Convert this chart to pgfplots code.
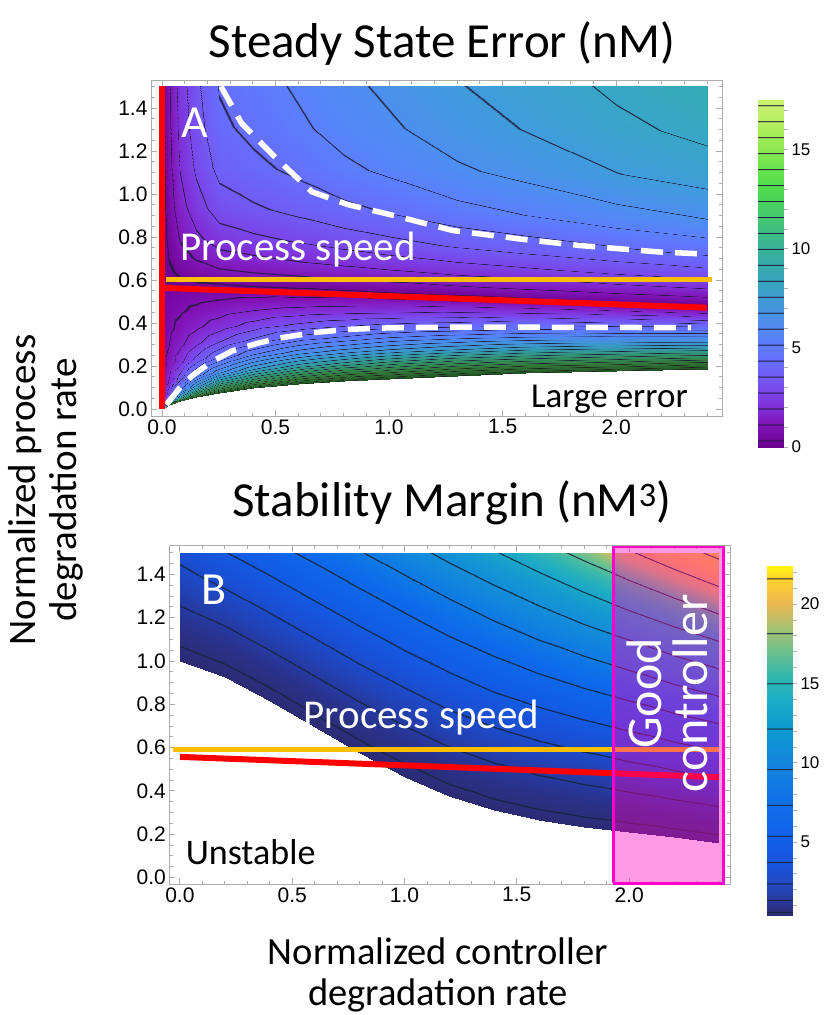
\documentclass[border=0pt]{standalone}
\usepackage{fontspec}
\setmainfont{Carlito}
\newfontfamily\arialfont{Liberation Sans}
\usepackage{pgfplots}
\pgfplotsset{compat=1.18}

\definecolor{procorange}{rgb}{1,0.75,0}
\definecolor{boxmag}{rgb}{1,0,0.8}
\definecolor{boxfill}{rgb}{1,0,0.75}

% colormaps: dark bands at the contour levels (positions = 50 x value for A, 40 x value for B)
\pgfplotsset{
  colormap={errAcb}{
    rgb(0pt)=(0.42,0,0.55);
    rgb(14pt)=(0.446,0.023,0.6); rgb(16.5pt)=(0.12,0.1,0.22); rgb(19pt)=(0.446,0.023,0.6);
    rgb(54.25pt)=(0.5,0.085,0.719); rgb(56.75pt)=(0.12,0.1,0.22); rgb(59.25pt)=(0.5,0.085,0.719);
    rgb(94.5pt)=(0.5,0.173,0.832); rgb(97pt)=(0.12,0.1,0.22); rgb(99.5pt)=(0.5,0.173,0.832);
    rgb(134.75pt)=(0.478,0.269,0.914); rgb(137.25pt)=(0.12,0.1,0.22); rgb(139.75pt)=(0.478,0.269,0.914);
    rgb(175pt)=(0.4425,0.355,0.967); rgb(177.5pt)=(0.12,0.1,0.22); rgb(180pt)=(0.4425,0.355,0.967);
    rgb(215.25pt)=(0.402,0.428,0.994); rgb(217.75pt)=(0.12,0.1,0.22); rgb(220.25pt)=(0.402,0.428,0.994);
    rgb(255.5pt)=(0.362,0.49,0.992); rgb(258pt)=(0.12,0.1,0.22); rgb(260.5pt)=(0.362,0.49,0.992);
    rgb(295.75pt)=(0.322,0.538,0.952); rgb(298.25pt)=(0.12,0.1,0.22); rgb(300.75pt)=(0.322,0.538,0.952);
    rgb(336pt)=(0.282,0.579,0.888); rgb(338.5pt)=(0.12,0.1,0.22); rgb(341pt)=(0.282,0.579,0.888);
    rgb(376.25pt)=(0.247,0.613,0.818); rgb(378.75pt)=(0.12,0.1,0.22); rgb(381.25pt)=(0.247,0.613,0.818);
    rgb(416.5pt)=(0.222,0.641,0.746); rgb(419pt)=(0.12,0.1,0.22); rgb(421.5pt)=(0.222,0.641,0.746);
    rgb(456.75pt)=(0.212,0.667,0.673); rgb(459.25pt)=(0.12,0.1,0.22); rgb(461.75pt)=(0.212,0.667,0.673);
    rgb(497pt)=(0.22,0.70,0.60); rgb(499.5pt)=(0.12,0.1,0.22); rgb(502pt)=(0.22,0.70,0.60);
    rgb(537.25pt)=(0.244,0.74,0.521); rgb(539.75pt)=(0.12,0.1,0.22); rgb(542.25pt)=(0.244,0.74,0.521);
    rgb(577.5pt)=(0.268,0.78,0.44); rgb(580pt)=(0.12,0.1,0.22); rgb(582.5pt)=(0.268,0.78,0.44);
    rgb(617.75pt)=(0.288,0.824,0.36); rgb(620.25pt)=(0.12,0.1,0.22); rgb(622.75pt)=(0.288,0.824,0.36);
    rgb(658pt)=(0.321,0.866,0.30); rgb(660.5pt)=(0.12,0.1,0.22); rgb(663pt)=(0.321,0.866,0.30);
    rgb(698.25pt)=(0.40,0.89,0.30); rgb(700.75pt)=(0.12,0.1,0.22); rgb(703.25pt)=(0.40,0.89,0.30);
    rgb(738.5pt)=(0.523,0.906,0.316); rgb(741pt)=(0.12,0.1,0.22); rgb(743.5pt)=(0.523,0.906,0.316);
    rgb(778.75pt)=(0.631,0.923,0.345); rgb(781.25pt)=(0.12,0.1,0.22); rgb(783.75pt)=(0.631,0.923,0.345);
    rgb(819pt)=(0.714,0.936,0.386); rgb(821.5pt)=(0.12,0.1,0.22); rgb(824pt)=(0.714,0.936,0.386);
    rgb(859.25pt)=(0.779,0.946,0.434); rgb(861.75pt)=(0.12,0.1,0.22); rgb(864.25pt)=(0.779,0.946,0.434);
    rgb(875pt)=(0.80,0.95,0.45)
  },
  colormap={errAup}{
    rgb(0pt)=(0.42,0,0.55);
    rgb(13.5pt)=(0.446,0.023,0.6); rgb(16.5pt)=(0.12,0.1,0.22); rgb(19.5pt)=(0.446,0.023,0.6);
    rgb(54.25pt)=(0.5,0.085,0.719); rgb(56.75pt)=(0.12,0.1,0.22); rgb(59.25pt)=(0.5,0.085,0.719);
    rgb(95.125pt)=(0.5,0.173,0.832); rgb(97pt)=(0.12,0.1,0.22); rgb(98.875pt)=(0.5,0.173,0.832);
    rgb(135.75pt)=(0.478,0.269,0.914); rgb(137.25pt)=(0.12,0.1,0.22); rgb(138.75pt)=(0.478,0.269,0.914);
    rgb(176.25pt)=(0.4425,0.355,0.967); rgb(177.5pt)=(0.12,0.1,0.22); rgb(178.75pt)=(0.4425,0.355,0.967);
    rgb(216.625pt)=(0.402,0.428,0.994); rgb(217.75pt)=(0.12,0.1,0.22); rgb(218.875pt)=(0.402,0.428,0.994);
    rgb(257.25pt)=(0.355,0.5,0.99); rgb(258pt)=(0.12,0.1,0.22); rgb(258.75pt)=(0.355,0.5,0.99);
    rgb(297.5pt)=(0.3,0.56,0.94); rgb(298.25pt)=(0.12,0.1,0.22); rgb(299pt)=(0.3,0.56,0.94);
    rgb(337.75pt)=(0.25,0.61,0.86); rgb(338.5pt)=(0.12,0.1,0.22); rgb(339.25pt)=(0.25,0.61,0.86);
    rgb(378.25pt)=(0.22,0.65,0.78); rgb(378.75pt)=(0.12,0.1,0.22); rgb(379.25pt)=(0.22,0.65,0.78);
    rgb(416.5pt)=(0.2,0.68,0.7); rgb(419pt)=(0.12,0.1,0.22); rgb(421.5pt)=(0.2,0.68,0.7);
    rgb(499.5pt)=(0.22,0.70,0.60);
    rgb(580pt)=(0.268,0.78,0.44);
    rgb(700.75pt)=(0.40,0.89,0.30);
    rgb(875pt)=(0.80,0.95,0.45)
  },
  colormap={errAlow}{
    rgb(0pt)=(0.46,0.02,0.64);
    rgb(14.5pt)=(0.5,0.06,0.7); rgb(16.5pt)=(0.12,0.1,0.22); rgb(18.5pt)=(0.5,0.06,0.7);
    rgb(54.5pt)=(0.52,0.14,0.8); rgb(56.75pt)=(0.12,0.1,0.22); rgb(59pt)=(0.52,0.14,0.8);
    rgb(94.5pt)=(0.5,0.22,0.88); rgb(97pt)=(0.12,0.1,0.22); rgb(99.5pt)=(0.5,0.22,0.88);
    rgb(134.5pt)=(0.47,0.3,0.94); rgb(137.25pt)=(0.12,0.1,0.22); rgb(140pt)=(0.47,0.3,0.94);
    rgb(174.5pt)=(0.43,0.37,0.98); rgb(177.5pt)=(0.12,0.1,0.22); rgb(180.5pt)=(0.43,0.37,0.98);
    rgb(214.25pt)=(0.4,0.42,1); rgb(217.75pt)=(0.12,0.1,0.22); rgb(221.25pt)=(0.4,0.42,1);
    rgb(254pt)=(0.37,0.46,1); rgb(258pt)=(0.12,0.1,0.22); rgb(262pt)=(0.37,0.46,1);
    rgb(293.75pt)=(0.34,0.5,0.98); rgb(298.25pt)=(0.12,0.1,0.22); rgb(302.75pt)=(0.34,0.5,0.98);
    rgb(333.5pt)=(0.31,0.53,0.95); rgb(338.5pt)=(0.12,0.1,0.22); rgb(343.5pt)=(0.31,0.53,0.95);
    rgb(373.25pt)=(0.28,0.56,0.9); rgb(378.75pt)=(0.12,0.1,0.22); rgb(384.25pt)=(0.28,0.56,0.9);
    rgb(413pt)=(0.25,0.58,0.84); rgb(419pt)=(0.12,0.1,0.22); rgb(425pt)=(0.25,0.58,0.84);
    rgb(453.25pt)=(0.22,0.6,0.77); rgb(459.25pt)=(0.12,0.1,0.22); rgb(465.25pt)=(0.22,0.6,0.77);
    rgb(493.5pt)=(0.2,0.6,0.68); rgb(499.5pt)=(0.12,0.1,0.22); rgb(505.5pt)=(0.2,0.6,0.68);
    rgb(533.75pt)=(0.2,0.6,0.58); rgb(539.75pt)=(0.12,0.1,0.22); rgb(545.75pt)=(0.2,0.6,0.58);
    rgb(574pt)=(0.2,0.58,0.48); rgb(580pt)=(0.12,0.1,0.22); rgb(586pt)=(0.2,0.58,0.48);
    rgb(614.25pt)=(0.2,0.56,0.4); rgb(620.25pt)=(0.12,0.1,0.22); rgb(626.25pt)=(0.2,0.56,0.4);
    rgb(654.5pt)=(0.2,0.54,0.33); rgb(660.5pt)=(0.12,0.1,0.22); rgb(666.5pt)=(0.2,0.54,0.33);
    rgb(694.75pt)=(0.2,0.5,0.27); rgb(700.75pt)=(0.12,0.1,0.22); rgb(706.75pt)=(0.2,0.5,0.27);
    rgb(735pt)=(0.2,0.46,0.22); rgb(741pt)=(0.1,0.12,0.1); rgb(747pt)=(0.2,0.46,0.22);
    rgb(775.25pt)=(0.18,0.42,0.2); rgb(781.25pt)=(0.1,0.12,0.1); rgb(787.25pt)=(0.18,0.42,0.2);
    rgb(815.5pt)=(0.16,0.38,0.17); rgb(821.5pt)=(0.1,0.12,0.1); rgb(827.5pt)=(0.16,0.38,0.17);
    rgb(855.75pt)=(0.14,0.33,0.15); rgb(861.75pt)=(0.1,0.12,0.1); rgb(867.75pt)=(0.14,0.33,0.15);
    rgb(875pt)=(0.12,0.3,0.13)
  },
  colormap={marBcb}{
    rgb(16pt)=(0.17,0.17,0.45);
    rgb(21.22pt)=(0.17,0.18,0.482); rgb(23.72pt)=(0.08,0.14,0.22); rgb(26.22pt)=(0.17,0.18,0.482);
    rgb(40pt)=(0.17,0.2,0.55);
    rgb(51.14pt)=(0.16,0.224,0.608); rgb(53.64pt)=(0.08,0.14,0.22); rgb(56.14pt)=(0.16,0.224,0.608);
    rgb(80pt)=(0.14,0.27,0.72);
    rgb(93.1pt)=(0.13,0.286,0.756); rgb(95.6pt)=(0.08,0.14,0.22); rgb(98.1pt)=(0.13,0.286,0.756);
    rgb(140pt)=(0.1,0.33,0.86);
    rgb(147.1pt)=(0.096,0.336,0.867); rgb(149.6pt)=(0.08,0.14,0.22); rgb(152.1pt)=(0.096,0.336,0.867);
    rgb(213.18pt)=(0.072,0.377,0.917); rgb(215.68pt)=(0.08,0.14,0.22); rgb(218.18pt)=(0.072,0.377,0.917);
    rgb(220pt)=(0.07,0.38,0.92);
    rgb(291.26pt)=(0.063,0.432,0.905); rgb(293.76pt)=(0.08,0.14,0.22); rgb(296.26pt)=(0.063,0.432,0.905);
    rgb(320pt)=(0.06,0.45,0.9);
    rgb(381.42pt)=(0.076,0.506,0.868); rgb(383.92pt)=(0.08,0.14,0.22); rgb(386.42pt)=(0.076,0.506,0.868);
    rgb(400pt)=(0.08,0.52,0.86);
    rgb(480pt)=(0.05,0.6,0.82);
    rgb(483.58pt)=(0.054,0.606,0.817); rgb(486.08pt)=(0.08,0.14,0.22); rgb(488.58pt)=(0.054,0.606,0.817);
    rgb(560pt)=(0.10,0.68,0.78);
    rgb(597.82pt)=(0.167,0.707,0.713); rgb(600.32pt)=(0.08,0.14,0.22); rgb(602.82pt)=(0.167,0.707,0.713);
    rgb(620pt)=(0.20,0.72,0.68);
    rgb(680pt)=(0.42,0.75,0.55);
    rgb(724.1pt)=(0.599,0.758,0.472); rgb(726.6pt)=(0.08,0.14,0.22); rgb(729.1pt)=(0.599,0.758,0.472);
    rgb(740pt)=(0.65,0.76,0.45);
    rgb(800pt)=(0.92,0.72,0.32);
    rgb(862.42pt)=(1,0.82,0.18); rgb(864.92pt)=(0.08,0.14,0.22); rgb(867.42pt)=(1,0.83,0.17);
    rgb(896pt)=(1,0.97,0.05)
  },
  colormap={marBplot}{
    rgb(16pt)=(0.17,0.17,0.45);
    rgb(22.85pt)=(0.167,0.18,0.485); rgb(23.72pt)=(0.08,0.14,0.22); rgb(24.59pt)=(0.167,0.18,0.485);
    rgb(40pt)=(0.16,0.2,0.56);
    rgb(52.35pt)=(0.147,0.226,0.628); rgb(53.64pt)=(0.08,0.14,0.22); rgb(54.93pt)=(0.147,0.226,0.628);
    rgb(72pt)=(0.13,0.26,0.72);
    rgb(93.86pt)=(0.11,0.293,0.792); rgb(95.6pt)=(0.08,0.14,0.22); rgb(97.34pt)=(0.11,0.293,0.792);
    rgb(108pt)=(0.1,0.31,0.83);
    rgb(147.44pt)=(0.076,0.35,0.886); rgb(149.6pt)=(0.08,0.14,0.22); rgb(151.76pt)=(0.076,0.35,0.886);
    rgb(160pt)=(0.07,0.36,0.9);
    rgb(213.08pt)=(0.056,0.402,0.914); rgb(215.68pt)=(0.08,0.14,0.22); rgb(218.28pt)=(0.056,0.402,0.914);
    rgb(240pt)=(0.05,0.42,0.92);
    rgb(290.76pt)=(0.061,0.474,0.893); rgb(293.76pt)=(0.08,0.14,0.22); rgb(296.76pt)=(0.061,0.474,0.893);
    rgb(340pt)=(0.07,0.52,0.87);
    rgb(380.42pt)=(0.074,0.555,0.848); rgb(383.92pt)=(0.08,0.14,0.22); rgb(387.42pt)=(0.074,0.555,0.848);
    rgb(440pt)=(0.08,0.6,0.82);
    rgb(482.18pt)=(0.103,0.646,0.785); rgb(486.08pt)=(0.08,0.14,0.22); rgb(489.98pt)=(0.103,0.646,0.785);
    rgb(520pt)=(0.12,0.68,0.76);
    rgb(580pt)=(0.25,0.73,0.65);
    rgb(596.02pt)=(0.348,0.742,0.603); rgb(600.32pt)=(0.08,0.14,0.22); rgb(604.62pt)=(0.348,0.742,0.603);
    rgb(632pt)=(0.5,0.76,0.52);
    rgb(680pt)=(0.8,0.75,0.4);
    rgb(721.8pt)=(0.917,0.734,0.322); rgb(726.6pt)=(0.08,0.14,0.22); rgb(731.4pt)=(0.917,0.734,0.322);
    rgb(740pt)=(0.95,0.73,0.3);
    rgb(800pt)=(1,0.77,0.22);
    rgb(859.72pt)=(1,0.824,0.172); rgb(864.92pt)=(0.08,0.14,0.22); rgb(870.12pt)=(1,0.83,0.165);
    rgb(896pt)=(1,0.85,0.15)
  },
  panel/.style={
    scale only axis,
    clip=false,
    tick align=inside,
    axis line style={draw=gray!65, line width=1pt},
    major tick length=6pt, minor tick length=3.5pt,
    every tick/.style={gray!65, line width=0.8pt},
    xtick={0,0.5,1,1.5,2},
    minor xtick={0.1,0.2,0.3,0.4,0.6,0.7,0.8,0.9,1.1,1.2,1.3,1.4,1.6,1.7,1.8,1.9,2.1,2.2,2.3,2.4},
    ytick={0,0.2,0.4,0.6,0.8,1.0,1.2,1.4},
    minor ytick={0.05,0.1,0.15,0.25,0.3,0.35,0.45,0.5,0.55,0.65,0.7,0.75,0.85,0.9,0.95,1.05,1.1,1.15,1.25,1.3,1.35,1.45,1.5},
    tick label style={font=\arialfont\fontsize{21}{21}\selectfont},
    /pgf/number format/assume math mode=true,
    scaled ticks=false,
    xticklabel style={/pgf/number format/fixed, /pgf/number format/fixed zerofill, /pgf/number format/precision=1},
    yticklabel style={/pgf/number format/fixed, /pgf/number format/fixed zerofill, /pgf/number format/precision=1},
  },
  cbar/.style={
    anchor=south west, scale only axis,
    width=25pt, xmin=0, xmax=1,
    xtick=\empty, ytick pos=right, yticklabel pos=right,
    tick align=outside,
    major tick length=5pt, minor tick length=5pt,
    every tick/.style={gray!60, line width=0.7pt},
    axis line style={draw=gray!35},
    yticklabel style={font=\arialfont\fontsize{17}{17}\selectfont},
    /pgf/number format/assume math mode=true,
  },
}

\begin{document}
\begin{tikzpicture}
\path[use as bounding box] (0,0) rectangle (828pt,-1015pt);

% ---------------- panel A : steady state error ----------------
\begin{axis}[panel,
  at={(151pt,-416pt)}, anchor=south west,
  width=571pt, height=336pt,
  xmin=-0.048, xmax=2.466, ymin=-0.033, ymax=1.53,
  point meta min=0, point meta max=17.5,
]
% below the zero-error line
\addplot[surf, shader=interp, colormap name=errAlow, point meta=explicit, mesh/cols=10] table[meta=m] {
x y m
0 0 0
0 0.0226 0
0 0.0565 0
0 0.113 0
0 0.1978 0
0 0.2825 0
0 0.3673 0
0 0.452 0
0 0.5085 0
0 0.565 0

0.03 0.018 17.5
0.03 0.0398 5.75
0.03 0.0726 2.72
0.03 0.1272 1.32
0.03 0.209 0.639
0.03 0.2909 0.35
0.03 0.3728 0.19
0.03 0.4546 0.089
0.03 0.5092 0.040
0.03 0.5638 0

0.08 0.035 17.5
0.08 0.0561 10.22
0.08 0.0877 6.03
0.08 0.1404 3.32
0.08 0.2194 1.714
0.08 0.2984 0.967
0.08 0.3774 0.534
0.08 0.4564 0.252
0.08 0.5091 0.113
0.08 0.5618 0

0.15 0.055 17.5
0.15 0.0752 12.75
0.15 0.1054 8.77
0.15 0.1558 5.41
0.15 0.2314 3.007
0.15 0.307 1.759
0.15 0.3826 0.993
0.15 0.4582 0.476
0.15 0.5086 0.215
0.15 0.559 0

0.25 0.075 17.5
0.25 0.0942 14.24
0.25 0.123 10.87
0.25 0.171 7.38
0.25 0.243 4.42
0.25 0.315 2.70
0.25 0.387 1.563
0.25 0.459 0.762
0.25 0.507 0.347
0.25 0.555 0

0.4 0.095 17.5
0.4 0.1132 15.19
0.4 0.1404 12.45
0.4 0.1858 9.15
0.4 0.2539 5.90
0.4 0.322 3.76
0.4 0.3901 2.25
0.4 0.4582 1.122
0.4 0.5036 0.517
0.4 0.549 0

0.6 0.115 17.5
0.6 0.132 15.74
0.6 0.1576 13.48
0.6 0.2002 10.48
0.6 0.2641 7.16
0.6 0.328 4.755
0.6 0.3919 2.928
0.6 0.4558 1.493
0.6 0.4984 0.697
0.6 0.541 0

0.8 0.13 17.5
0.8 0.1461 16.02
0.8 0.1703 14.04
0.8 0.2106 11.25
0.8 0.2711 7.97
0.8 0.3315 5.435
0.8 0.392 3.416
0.8 0.4524 1.771
0.8 0.4927 0.834
0.8 0.533 0

1.0 0.14 17.5
1.0 0.1554 16.18
1.0 0.1785 14.38
1.0 0.217 11.76
1.0 0.2748 8.54
1.0 0.3325 5.93
1.0 0.3903 3.787
1.0 0.448 1.989
1.0 0.4865 0.943
1.0 0.525 0

1.3 0.155 17.5
1.3 0.1693 16.34
1.3 0.1908 14.71
1.3 0.2266 12.26
1.3 0.2803 9.116
1.3 0.334 6.462
1.3 0.3877 4.195
1.3 0.4414 2.234
1.3 0.4772 1.069
1.3 0.513 0

1.6 0.165 17.5
1.6 0.1784 16.43
1.6 0.1986 14.91
1.6 0.2322 12.59
1.6 0.2826 9.508
1.6 0.333 6.833
1.6 0.3834 4.488
1.6 0.4338 2.416
1.6 0.4674 1.163
1.6 0.501 0

2.0 0.175 17.5
2.0 0.1874 16.51
2.0 0.206 15.09
2.0 0.237 12.87
2.0 0.2835 9.866
2.0 0.33 7.181
2.0 0.3765 4.770
2.0 0.423 2.593
2.0 0.454 1.256
2.0 0.485 0

2.4 0.185 17.5
2.4 0.1964 16.56
2.4 0.2134 15.21
2.4 0.2418 13.07
2.4 0.2844 10.11
2.4 0.327 7.428
2.4 0.3696 4.974
2.4 0.4122 2.724
2.4 0.4406 1.325
2.4 0.469 0
};
% above the zero-error line
\addplot[surf, shader=interp, colormap name=errAup, point meta=explicit, mesh/cols=9] table[meta=m] {
x y m
0 0.565 0
0 0.5931 0
0 0.6398 0
0 0.7053 0
0 0.7988 0
0 0.939 0
0 1.126 0
0 1.313 0
0 1.5 0

0.03 0.5638 0
0.03 0.5919 0.086
0.03 0.6387 0.216
0.03 0.7042 0.370
0.03 0.7978 0.546
0.03 0.9383 0.736
0.03 1.1255 0.894
0.03 1.3128 0.987
0.03 1.5 1.042

0.08 0.5618 0
0.08 0.5899 0.193
0.08 0.6369 0.483
0.08 0.7025 0.828
0.08 0.7964 1.220
0.08 0.9371 1.643
0.08 1.1247 1.997
0.08 1.3124 2.204
0.08 1.5 2.324

0.15 0.559 0
0.15 0.5872 0.281
0.15 0.6343 0.701
0.15 0.7002 1.201
0.15 0.7943 1.771
0.15 0.9354 2.384
0.15 1.1236 2.895
0.15 1.3118 3.194
0.15 1.5 3.368

0.25 0.555 0
0.25 0.5834 0.369
0.25 0.6306 0.921
0.25 0.6968 1.579
0.25 0.7913 2.326
0.25 0.933 3.129
0.25 1.122 3.798
0.25 1.311 4.188
0.25 1.5 4.415

0.4 0.549 0
0.4 0.5775 0.405
0.4 0.6251 1.011
0.4 0.6917 1.732
0.4 0.7868 2.549
0.4 0.9294 3.425
0.4 1.1196 4.154
0.4 1.3098 4.577
0.4 1.5 4.822

0.6 0.541 0
0.6 0.5698 0.446
0.6 0.6177 1.111
0.6 0.6849 1.903
0.6 0.7808 2.799
0.6 0.9246 3.756
0.6 1.1164 4.550
0.6 1.3082 5.008
0.6 1.5 5.273

0.8 0.533 0
0.8 0.562 0.491
0.8 0.6104 1.222
0.8 0.6781 2.091
0.8 0.7748 3.073
0.8 0.9198 4.119
0.8 1.1132 4.983
0.8 1.3066 5.479
0.8 1.5 5.764

1.0 0.525 0
1.0 0.5543 0.525
1.0 0.603 1.309
1.0 0.6713 2.238
1.0 0.7688 3.286
1.0 0.915 4.398
1.0 1.11 5.314
1.0 1.305 5.837
1.0 1.5 6.136

1.3 0.513 0
1.3 0.5426 0.580
1.3 0.592 1.445
1.3 0.6611 2.468
1.3 0.7598 3.618
1.3 0.9078 4.835
1.3 1.1052 5.830
1.3 1.3026 6.394
1.3 1.5 6.716

1.6 0.501 0
1.6 0.531 0.623
1.6 0.5809 1.549
1.6 0.6509 2.641
1.6 0.7508 3.867
1.6 0.9006 5.159
1.6 1.1004 6.209
1.6 1.3002 6.801
1.6 1.5 7.136

2.0 0.485 0
2.0 0.5155 0.682
2.0 0.5662 1.695
2.0 0.6373 2.888
2.0 0.7388 4.221
2.0 0.891 5.618
2.0 1.094 6.743
2.0 1.297 7.372
2.0 1.5 7.724

2.4 0.469 0
2.4 0.4999 0.729
2.4 0.5515 1.810
2.4 0.6237 3.079
2.4 0.7268 4.491
2.4 0.8814 5.962
2.4 1.0876 7.139
2.4 1.2938 7.791
2.4 1.5 8.152
};
% white dashed guide curves
\addplot[white, line width=5.5pt, dash pattern=on 22pt off 12pt] coordinates {
(0.26,1.5) (0.35,1.33) (0.49,1.18) (0.66,1.01) (0.82,0.95) (1.02,0.90)
(1.28,0.83) (1.58,0.79) (1.84,0.76) (2.19,0.73) (2.40,0.72)};
\addplot[white, line width=5.5pt, dash pattern=on 22pt off 12pt] coordinates {
(0.02,0.02) (0.08,0.10) (0.14,0.16) (0.22,0.22) (0.31,0.27) (0.42,0.305)
(0.52,0.33) (0.67,0.355) (0.82,0.37) (1.0,0.377) (1.23,0.38) (1.67,0.38) (2.33,0.378)};
\addplot[procorange, line width=5pt] coordinates {(0.02,0.6) (2.42,0.6)};
\addplot[red, line width=6pt] coordinates {(0,0.563) (2.4,0.471)};
\addplot[red, line width=6.5pt] coordinates {(0,0) (0,1.5)};
\node[white, font=\fontsize{46}{46}\selectfont] at (axis cs:0.145,1.33) {A};
\node[white, font=\fontsize{41}{41}\selectfont] at (axis cs:0.60,0.74) {Process speed};
\node[black, font=\fontsize{35}{35}\selectfont] at (axis cs:1.97,0.045) {Large error};
\end{axis}

% colour scale of panel A
\begin{axis}[cbar, at={(758pt,-447pt)}, height=347pt,
  ymin=0, ymax=17.5, ytick={0,5,10,15}, minor ytick={1,2,3,4,6,7,8,9,11,12,13,14,16,17},
  colormap name=errAcb, point meta min=0, point meta max=17.5]
\addplot[surf, shader=interp, point meta=explicit, mesh/cols=2] table[meta=m] {
x y m
0 0 0
0 17.5 17.5

1 0 0
1 17.5 17.5
};
\end{axis}

% ---------------- panel B : stability margin ----------------
\begin{axis}[panel,
  at={(169.3pt,-884pt)}, anchor=south west,
  width=560.7pt, height=338.3pt,
  xmin=-0.047, xmax=2.449, ymin=-0.03, ymax=1.532,
  colormap name=marBplot, point meta min=0.4, point meta max=22.4,
]
\addplot[surf, shader=interp, point meta=explicit, mesh/cols=11] table[meta=m] {
x y m
0 1.0 0.397
0 1.05 0.537
0 1.1 0.699
0 1.15 0.882
0 1.2 1.086
0 1.25 1.311
0 1.3 1.558
0 1.35 1.825
0 1.4 2.114
0 1.45 2.424
0 1.5 2.756

0.2 0.925 0.397
0.2 0.9825 0.575
0.2 1.04 0.787
0.2 1.0975 1.032
0.2 1.155 1.310
0.2 1.2125 1.621
0.2 1.27 1.965
0.2 1.3275 2.342
0.2 1.385 2.752
0.2 1.4425 3.195
0.2 1.5 3.671

0.4 0.815 0.397
0.4 0.8835 0.615
0.4 0.952 0.881
0.4 1.0205 1.194
0.4 1.089 1.555
0.4 1.1575 1.963
0.4 1.226 2.419
0.4 1.2945 2.922
0.4 1.363 3.473
0.4 1.4315 4.072
0.4 1.5 4.718

0.6 0.695 0.397
0.6 0.7755 0.656
0.6 0.856 0.979
0.6 0.9365 1.368
0.6 1.017 1.820
0.6 1.0975 2.338
0.6 1.178 2.920
0.6 1.2585 3.567
0.6 1.339 4.278
0.6 1.4195 5.054
0.6 1.5 5.895

0.8 0.575 0.397
0.8 0.6675 0.698
0.8 0.76 1.083
0.8 0.8525 1.553
0.8 0.945 2.107
0.8 1.0375 2.746
0.8 1.13 3.468
0.8 1.2225 4.276
0.8 1.315 5.167
0.8 1.4075 6.143
0.8 1.5 7.204

1.0 0.465 0.397
1.0 0.5685 0.741
1.0 0.672 1.192
1.0 0.7755 1.750
1.0 0.879 2.415
1.0 0.9825 3.186
1.0 1.086 4.064
1.0 1.1895 5.049
1.0 1.293 6.141
1.0 1.3965 7.339
1.0 1.5 8.644

1.2 0.375 0.397
1.2 0.4875 0.786
1.2 0.6 1.307
1.2 0.7125 1.959
1.2 0.825 2.744
1.2 0.9375 3.660
1.2 1.05 4.707
1.2 1.1625 5.886
1.2 1.275 7.198
1.2 1.3875 8.640
1.2 1.5 10.214

1.4 0.31 0.397
1.4 0.429 0.832
1.4 0.548 1.427
1.4 0.667 2.180
1.4 0.786 3.093
1.4 0.905 4.166
1.4 1.024 5.397
1.4 1.143 6.788
1.4 1.262 8.338
1.4 1.381 10.048
1.4 1.5 11.916

1.6 0.265 0.397
1.6 0.3885 0.879
1.6 0.512 1.552
1.6 0.6355 2.413
1.6 0.759 3.464
1.6 0.8825 4.705
1.6 1.006 6.135
1.6 1.1295 7.754
1.6 1.253 9.563
1.6 1.3765 11.561
1.6 1.5 13.749

1.8 0.235 0.397
1.8 0.3615 0.928
1.8 0.488 1.682
1.8 0.6145 2.658
1.8 0.741 3.856
1.8 0.8675 5.276
1.8 0.994 6.919
1.8 1.1205 8.784
1.8 1.247 10.872
1.8 1.3735 13.181
1.8 1.5 15.713

2.0 0.21 0.397
2.0 0.339 0.978
2.0 0.468 1.817
2.0 0.597 2.914
2.0 0.726 4.268
2.0 0.855 5.881
2.0 0.984 7.751
2.0 1.113 9.878
2.0 1.242 12.264
2.0 1.371 14.907
2.0 1.5 17.808

2.2 0.185 0.397
2.2 0.3165 1.029
2.2 0.448 1.958
2.2 0.5795 3.182
2.2 0.711 4.702
2.2 0.8425 6.518
2.2 0.974 8.630
2.2 1.1055 11.037
2.2 1.237 13.740
2.2 1.3685 16.740
2.2 1.5 20.035

2.4 0.16 0.397
2.4 0.294 1.082
2.4 0.428 2.104
2.4 0.562 3.462
2.4 0.696 5.157
2.4 0.83 7.188
2.4 0.964 9.555
2.4 1.098 12.260
2.4 1.232 15.301
2.4 1.366 18.678
2.4 1.5 22.392
};
\addplot[procorange, line width=5.5pt] coordinates {(-0.03,0.592) (2.4,0.592)};
\addplot[red, line width=6pt] coordinates {(0,0.557) (2.4,0.463)};
\addplot[draw=boxmag, fill=boxfill, fill opacity=0.4, line width=2.5pt] coordinates {
(1.93,-0.027) (2.42,-0.027) (2.42,1.525) (1.93,1.525) (1.93,-0.027)};
\node[white, font=\fontsize{46}{46}\selectfont] at (axis cs:0.15,1.33) {B};
\node[white, font=\fontsize{41}{41}\selectfont] at (axis cs:1.075,0.74) {Process speed};
\node[black, font=\fontsize{36}{36}\selectfont] at (axis cs:0.315,0.115) {Unstable};
\node[white, rotate=90, align=center, font=\fontsize{50}{46}\selectfont] at (axis cs:2.17,0.85) {Good\\controller};
\end{axis}

% colour scale of panel B
\begin{axis}[cbar, at={(767pt,-915pt)}, height=349pt,
  ymin=0.4, ymax=22.4, ytick={5,10,15,20}, minor ytick={1,2,3,4,6,7,8,9,11,12,13,14,16,17,18,19,21,22},
  colormap name=marBcb, point meta min=0.4, point meta max=22.4]
\addplot[surf, shader=interp, point meta=explicit, mesh/cols=2] table[meta=m] {
x y m
0 0.4 0.4
0 22.4 22.4

1 0.4 0.4
1 22.4 22.4
};
\end{axis}

% titles and axis labels
\node[anchor=base, font=\fontsize{49}{49}\selectfont] at (442pt,-57pt) {Steady State Error (nM)};
\node[anchor=base, font=\fontsize{49}{49}\selectfont] at (452pt,-516pt) {Stability Margin (nM\textsuperscript{3})};
\node[rotate=90, align=center, font=\fontsize{39}{41}\selectfont] at (46pt,-490pt) {Normalized process\\degradation rate};
\node[align=center, font=\fontsize{38.5}{41}\selectfont] at (438pt,-975pt) {Normalized controller\\degradation rate};
\end{tikzpicture}
\end{document}
